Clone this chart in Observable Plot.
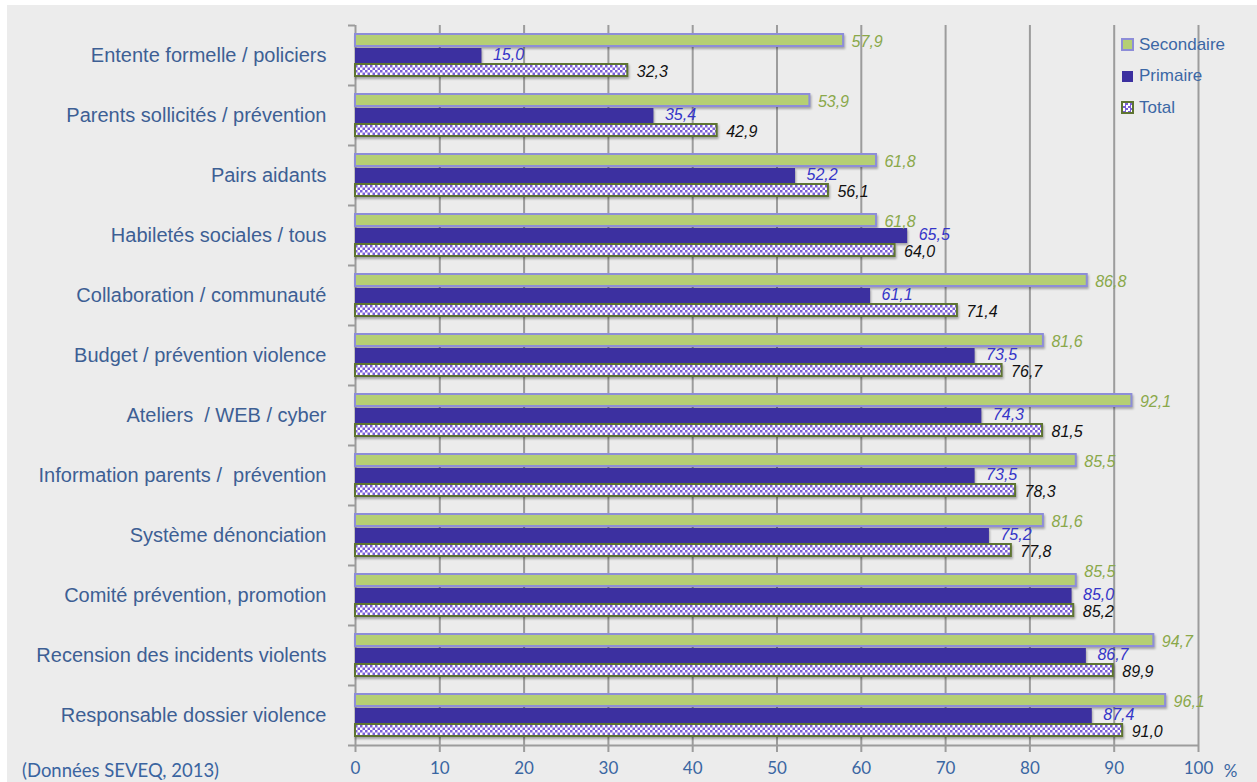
<!DOCTYPE html>
<html>
<head>
<meta charset="utf-8">
<script src="https://cdn.jsdelivr.net/npm/d3@7"></script>
<script src="https://cdn.jsdelivr.net/npm/@observablehq/plot@0.6"></script>
<style>
  html, body { margin: 0; padding: 0; background: #fff; }
  #wrap { position: relative; width: 1257px; height: 782px; background: #fff; overflow: hidden; }
  #bg { position: absolute; left: 7px; top: 5px; right: 0; bottom: 0; background: #ececec; }
  #chart { position: absolute; left: 0; top: 0; }
  #legend { position: absolute; left: 1121px; top: 29px; font-family: "Liberation Sans", Arial, sans-serif; font-size: 17px; color: #3b67a5; }
  #legend .item { display: flex; align-items: center; height: 31.5px; }
  #legend .sw { width: 10px; height: 10px; margin-right: 5px; box-sizing: content-box; }
  #caption { position: absolute; left: 22px; top: 759px; font-family: Lato, "Open Sans", sans-serif; font-size: 18.5px; color: #3a64a0; }
  .cat text { white-space: pre; }
</style>
</head>
<body>
<div id="wrap">
  <div id="bg"></div>
  <div id="chart"></div>
  <div id="legend"></div>
  <div id="caption">(Données SEVEQ, 2013)</div>
</div>
<script>
// Categories, top to bottom
const categories = [
  "Entente formelle / policiers",
  "Parents sollicités / prévention",
  "Pairs aidants",
  "Habiletés sociales / tous",
  "Collaboration / communauté",
  "Budget / prévention violence",
  "Ateliers  / WEB / cyber",
  "Information parents /  prévention",
  "Système dénonciation",
  "Comité prévention, promotion",
  "Recension des incidents violents",
  "Responsable dossier violence"
];
const series = ["Secondaire", "Primaire", "Total"];
const secondaire = [57.9, 53.9, 61.8, 61.8, 86.8, 81.6, 92.1, 85.5, 81.6, 85.5, 94.7, 96.1];
const primaire   = [15.0, 35.4, 52.2, 65.5, 61.1, 73.5, 74.3, 73.5, 75.2, 85.0, 86.7, 87.4];
const total      = [32.3, 42.9, 56.1, 64.0, 71.4, 76.7, 81.5, 78.3, 77.8, 85.2, 89.9, 91.0];
const xTicks = d3.range(0, 101, 10);

const rows = categories.map((c, i) => ({
  i, category: c, s: secondaire[i], p: primaire[i], t: total[i]
}));

const fmt = v => v.toFixed(1).replace(".", ",");
// a Secondaire label is lifted when it would sit on top of the Primaire label
const crowded = d => Math.abs(d.s - d.p) < 3;

const grey = "#9c9c9c";
const green = "#b5cf74", greenEdge = "#8d8dd8";
const blue = "#3c30a0";
const olive = "#5e7431";
const axisFont = "Lato, 'Open Sans', sans-serif";

const sLabel = {
  x: "s", y: "i", dx: 8, text: d => fmt(d.s), textAnchor: "start",
  fontSize: 16, fontStyle: "italic", fill: "#8aa84a"
};

const plot = Plot.plot({
  width: 1257,
  height: 782,
  marginLeft: 355,
  marginRight: 59,
  marginTop: 25,
  marginBottom: 37,
  style: { background: "transparent", fontFamily: "'Liberation Sans', Arial, sans-serif" },
  x: { domain: [0, 100], axis: null },
  y: { domain: [0, categories.length], reverse: true, axis: null },
  marks: [
    Plot.gridX(xTicks.slice(1), { stroke: grey, strokeOpacity: 1, strokeWidth: 2 }),
    Plot.axisX(xTicks, {
      tickSize: 7, tickPadding: 9, stroke: grey, strokeWidth: 2,
      fill: "#3a66a2", fontSize: 17, fontFamily: axisFont, label: null
    }),
    Plot.text(["%"], {
      x: () => 100, y: () => categories.length, dx: 32, dy: 26,
      fill: "#3a66a2", fontSize: 17, fontFamily: axisFont
    }),
    Plot.axisY(d3.range(0, categories.length + 1), {
      tickSize: 7, stroke: grey, strokeWidth: 2, tickFormat: () => "", label: null
    }),
    Plot.ruleX([0], { stroke: grey, strokeWidth: 2 }),
    Plot.ruleY([categories.length], { stroke: grey, strokeWidth: 2 }),
    // category labels
    Plot.text(rows, {
      x: () => 0, y: d => d.i + 0.5, text: "category", dx: -29, textAnchor: "end",
      fontSize: 20, fill: "#3d5f94", className: "cat"
    }),
    // bars
    Plot.rect(rows, {
      x1: () => 0, x2: "s", y1: "i", y2: d => d.i + 1, insetTop: 9, insetBottom: 39,
      fill: green, stroke: greenEdge, strokeWidth: 2
    }),
    Plot.rect(rows, {
      x1: () => 0, x2: "p", y1: "i", y2: d => d.i + 1, insetTop: 23, insetBottom: 22,
      fill: blue
    }),
    Plot.rect(rows, {
      x1: () => 0, x2: "t", y1: "i", y2: d => d.i + 1, insetTop: 39, insetBottom: 9,
      fill: "url(#checker)", stroke: olive, strokeWidth: 2
    }),
    // value labels
    Plot.text(rows.filter(d => !crowded(d)), { ...sLabel, dy: 16 }),
    Plot.text(rows.filter(crowded), { ...sLabel, dy: 6 }),
    Plot.text(rows, {
      x: "p", y: "i", dy: 29, dx: 11, text: d => fmt(d.p), textAnchor: "start",
      fontSize: 16, fontStyle: "italic", fill: "#3535c8"
    }),
    Plot.text(rows, {
      x: "t", y: "i", dy: 46, dx: 9, text: d => fmt(d.t), textAnchor: "start",
      fontSize: 16, fontStyle: "italic", fill: "#111"
    })
  ]
});

// checkered fill used by the Total bars
const ns = "http://www.w3.org/2000/svg";
const defs = document.createElementNS(ns, "defs");
defs.innerHTML = `
  <pattern id="checker" width="5" height="5" patternUnits="userSpaceOnUse">
    <rect width="5" height="5" fill="#ffffff"/>
    <rect width="2.5" height="2.5" fill="#7a5ed6"/>
    <rect x="2.5" y="2.5" width="2.5" height="2.5" fill="#7a5ed6"/>
  </pattern>`;
plot.insertBefore(defs, plot.firstChild);

// soft shadow under the bars
plot.querySelectorAll('g[aria-label="rect"]').forEach(g => {
  g.style.filter = "drop-shadow(1px 2px 1.2px rgba(0,0,0,0.3))";
});

document.getElementById("chart").appendChild(plot);

// legend
const legendStyles = {
  Secondaire: `background:${green};border:2px solid ${greenEdge};width:9px;height:9px;`,
  Primaire: `background:${blue};width:11px;height:11px;margin-left:1px;margin-right:6px;`,
  Total: `background:repeating-conic-gradient(#7a5ed6 0 25%, #fff 0 50%) 0 0/5px 5px;border:2px solid ${olive};width:9px;height:9px;`
};
const legend = document.getElementById("legend");
series.forEach(name => {
  const item = document.createElement("div");
  item.className = "item";
  item.innerHTML = `<span class="sw" style="${legendStyles[name]}"></span><span>${name}</span>`;
  legend.appendChild(item);
});
</script>
</body>
</html>
